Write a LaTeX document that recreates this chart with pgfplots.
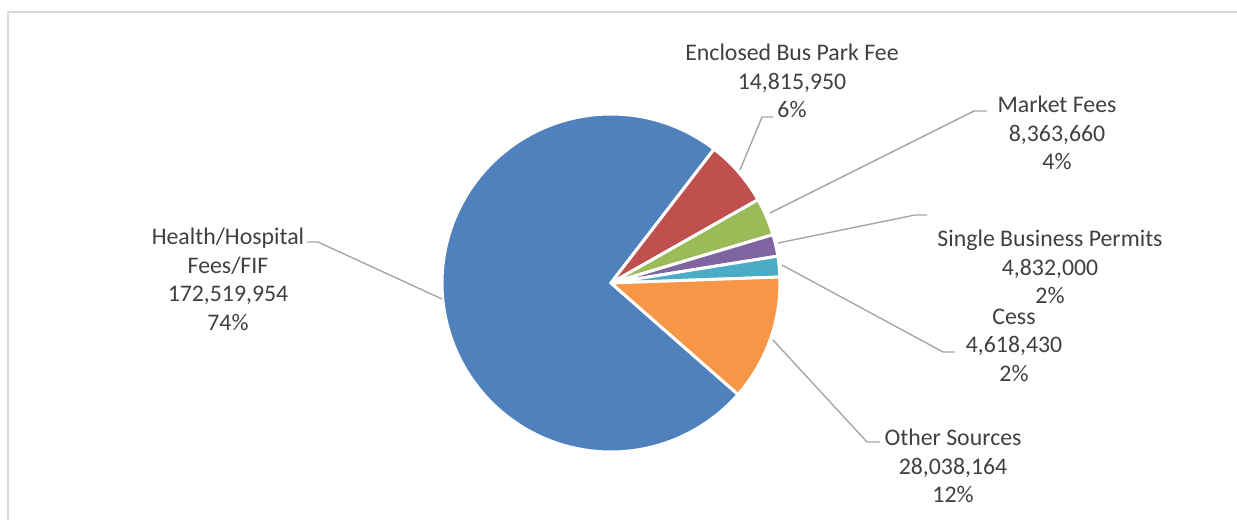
\documentclass[border=0pt]{standalone}
\usepackage{pgfplots}
\pgfplotsset{compat=1.18}
\usepackage{fontspec}
\setmainfont{Carlito}
\definecolor{cBlue}{HTML}{4F81BD}
\definecolor{cRed}{HTML}{C0504D}
\definecolor{cGreen}{HTML}{9BBB59}
\definecolor{cPurple}{HTML}{8064A2}
\definecolor{cAqua}{HTML}{4BACC6}
\definecolor{cOrange}{HTML}{F79646}
\definecolor{cText}{HTML}{404040}
\definecolor{cLead}{HTML}{A6A6A6}
\definecolor{cFrame}{HTML}{D9D9D9}
% data values
\def\vBus{14815950}
\def\vMarket{8363660}
\def\vSBP{4832000}
\def\vCess{4618430}
\def\vOther{28038164}
\def\vHealth{172519954}
\edef\vTot{\fpeval{\vBus+\vMarket+\vSBP+\vCess+\vOther+\vHealth}}
\def\aS{52.4}
\edef\aBus{\fpeval{\aS-360*\vBus/\vTot}}
\edef\aMarket{\fpeval{\aBus-360*\vMarket/\vTot}}
\edef\aSBP{\fpeval{\aMarket-360*\vSBP/\vTot}}
\edef\aCess{\fpeval{\aSBP-360*\vCess/\vTot}}
\edef\aOther{\fpeval{\aCess-360*\vOther/\vTot}}
\edef\aHealth{\fpeval{\aOther-360*\vHealth/\vTot}}
\def\cx{611}
\def\cy{283}
\def\rr{169}
\tikzset{lbl/.style={font=\fontsize{11.9}{14.25}\selectfont, text=cText, align=center, inner sep=0pt}}
\begin{document}
\begin{tikzpicture}
\begin{axis}[
  width=618.5pt, height=260pt, scale only axis,
  xmin=0, xmax=1237, ymin=0, ymax=520, y dir=reverse,
  axis lines=none, clip=false,
  slice/.style={draw=white, line width=1.5pt, line join=round},
]
\addplot[slice, fill=cBlue, domain=\aHealth:\aOther, samples=150, variable=\t]
  ({\cx+\rr*cos(\t)},{\cy-\rr*sin(\t)}) -- (axis cs:\cx,\cy) -- cycle;
\addplot[slice, fill=cRed, domain=\aBus:\aS, samples=30, variable=\t]
  ({\cx+\rr*cos(\t)},{\cy-\rr*sin(\t)}) -- (axis cs:\cx,\cy) -- cycle;
\addplot[slice, fill=cGreen, domain=\aMarket:\aBus, samples=20, variable=\t]
  ({\cx+\rr*cos(\t)},{\cy-\rr*sin(\t)}) -- (axis cs:\cx,\cy) -- cycle;
\addplot[slice, fill=cPurple, domain=\aSBP:\aMarket, samples=15, variable=\t]
  ({\cx+\rr*cos(\t)},{\cy-\rr*sin(\t)}) -- (axis cs:\cx,\cy) -- cycle;
\addplot[slice, fill=cAqua, domain=\aCess:\aSBP, samples=15, variable=\t]
  ({\cx+\rr*cos(\t)},{\cy-\rr*sin(\t)}) -- (axis cs:\cx,\cy) -- cycle;
\addplot[slice, fill=cOrange, domain=\aOther:\aCess, samples=40, variable=\t]
  ({\cx+\rr*cos(\t)},{\cy-\rr*sin(\t)}) -- (axis cs:\cx,\cy) -- cycle;
% frame
\draw[cFrame, line width=1pt] (axis cs:7.5,520) -- (axis cs:7.5,12) -- (axis cs:1237,12);
% leader lines
\begin{scope}[cLead, line width=0.7pt]
\draw (axis cs:740,170) -- (axis cs:762,117) -- (axis cs:773,117);
\draw (axis cs:770,213) -- (axis cs:974,111) -- (axis cs:987,111);
\draw (axis cs:778,243) -- (axis cs:915,215) -- (axis cs:927,215);
\draw (axis cs:782,265) -- (axis cs:943,352) -- (axis cs:955,352);
\draw (axis cs:773,340) -- (axis cs:867,442) -- (axis cs:880,442);
\draw (axis cs:307,242) -- (axis cs:318,242) -- (axis cs:442,299);
\end{scope}
% labels
\node[lbl] at (axis cs:792,81) {Enclosed Bus Park Fee\\14,815,950\\6\%};
\node[lbl] at (axis cs:1057,133) {Market Fees\\8,363,660\\4\%};
\node[lbl] at (axis cs:1050,267) {Single Business Permits\\4,832,000\\2\%};
\node[lbl] at (axis cs:1014,345) {Cess\\4,618,430\\2\%};
\node[lbl] at (axis cs:953,466) {Other Sources\\28,038,164\\12\%};
\node[lbl] at (axis cs:228,279.5) {Health/Hospital\\Fees/FIF\\172,519,954\\74\%};
\end{axis}
\pgfresetboundingbox
\path (current axis.south west) rectangle (current axis.north east);
\end{tikzpicture}
\end{document}
